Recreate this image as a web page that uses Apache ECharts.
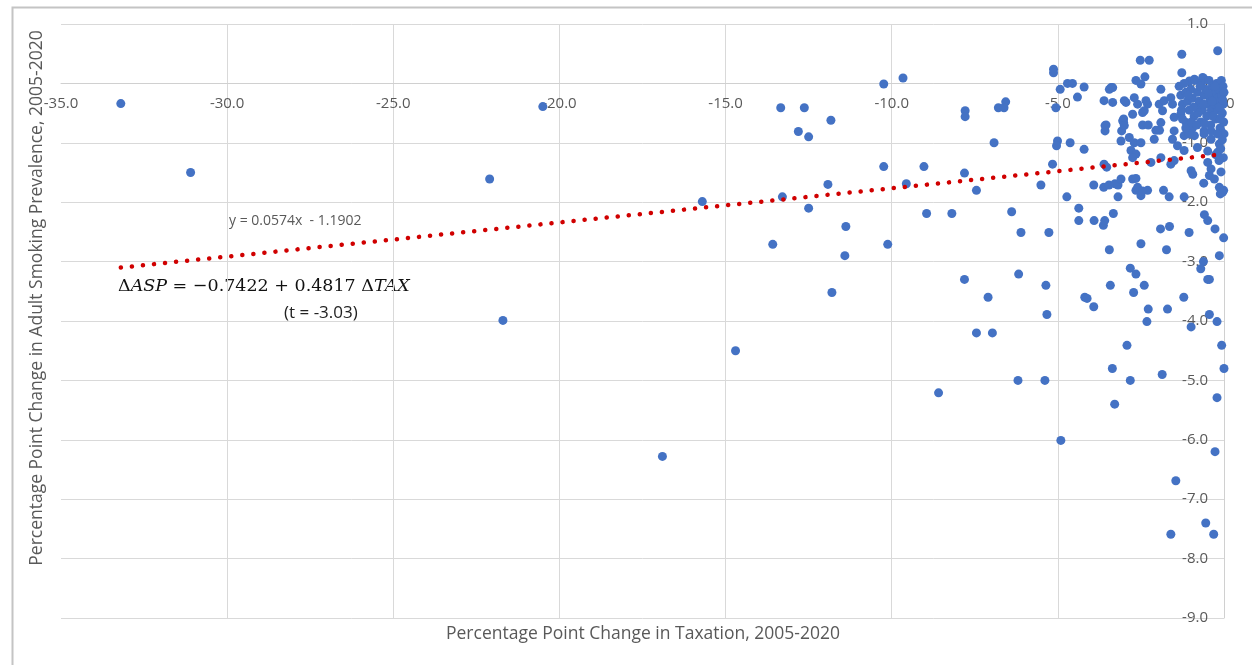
<!DOCTYPE html>
<html>
<head>
<meta charset="utf-8">
<script src="https://cdn.jsdelivr.net/npm/echarts@6/dist/echarts.min.js"></script>
<style>
html,body{margin:0;padding:0;background:#fff;}
#chart{width:1252px;height:665px;}
</style>
</head>
<body>
<div id="chart"></div>
<script>
// Percentage point change in taxation (x) vs. change in adult smoking prevalence (y)
const taxChange = [
 -33.2,-31.1,-22.1,-21.7,-20.5,-16.9,-15.7,-14.7,
 -13.34,-12.63,-12.81,-12.50,-11.83,-10.24,-9.66,-7.79,-7.79,-10.24,-9.03,-11.92,-9.56,-7.81,-7.45,-13.29,-12.50,-8.95,-8.19,-11.38,-13.58,-10.12,-11.41,
 -11.80,-7.81,-7.45,-8.59,
 -6.18,-7.10,-5.36,-5.33,-6.97,-6.20,-5.39,
 -6.39,-6.11,-5.27,-5.51,
 -6.79,-6.57,-6.62,-6.92,-5.06,
 -5.13,-5.13,-4.71,-4.56,-4.93,-4.21,-4.41,
 -5.01,-5.04,-4.63,-4.21,-5.16,
 -4.73,-4.37,-4.37,-3.91,-3.63,-3.59,-3.33,-3.45,
 -4.19,-4.12,-3.92,-3.42,-2.82,-2.65,-2.72,-2.40,-2.28,-2.32,-1.70,-1.21,-0.44,-0.99,-0.21,
 -2.92,-0.07,-3.36,0.0,-2.82,-1.86,-3.29,-0.21,
 -4.91,-0.27,-1.45,-0.55,-1.60,-0.31,
 -2.50,-1.91,-1.64,-1.73,-1.05,-0.59,-0.49,-0.27,-0.01,-0.14,-0.62,-0.70,-0.49,-0.44,
 -3.92,-3.62,-3.46,-3.28,-3.19,-3.19,-2.65,-2.50,-2.30,-1.82,-1.65,-1.20,-0.61,-0.11,-0.01,
 -3.10,-2.75,-2.65,-2.60,-2.45,
 -3.61,-3.53,-2.20,-1.90,-1.60,-1.50,-0.99,-0.94,-0.49,-0.39,-0.44,-0.29,-0.09,-0.14,-0.04,
 -3.58,-3.58,-3.02,-3.02,-3.08,-3.10,-2.85,-2.70,-2.50,-2.10,-1.55,-1.40,-1.20,-2.80,-2.65,-2.75,-0.39,-0.14,-0.19,-1.20,-0.89,-0.80,-0.49,-2.45,-2.28,-1.94,-1.50,-0.60,-0.39,-0.09,
 -3.40,-3.61,-3.35,-2.95,-2.70,-2.60,-2.45,-2.30,-2.75,-1.95,-1.80,-1.60,-1.55,-1.90,-2.05,-3.05,-3.00,-3.55,-1.50,-1.30,-1.14,-1.90,-2.65,-2.38,-2.50,
 -3.45,-3.35,-2.35,-2.40,-3.00,-1.85,
 -2.52,-2.25,-1.27,-0.19,-1.27,-1.04,-0.59,-0.64,-0.89,
 -1.35,-1.30,-1.25,-1.20,-1.15,-1.10,-1.05,-1.00,-0.95,-0.90,-0.88,-0.85,-0.80,-0.75,-0.70,-0.68,-0.65,-0.60,-0.55,-0.52,-0.50,-0.45,-0.42,-0.40,-0.38,-0.35,-0.30,-0.28,-0.25,-0.22,-0.20,-0.18,-0.15,-0.12,-0.10,-0.08,-0.06,-0.05,-0.03,-0.02,-0.01,0.0,0.0,-0.20,-0.60,-0.95,-1.05,
 -0.05,-0.10,-0.02,-0.15,-0.25,
 -1.25,-1.15,-0.98,-0.82,-0.72,-0.58,-0.47,-0.33,-0.27,-0.13,-0.11,-0.04,-0.36,-0.62,-0.78,-0.92,-1.08,-1.28
];
const smokingChange = [
 -0.34,-1.50,-1.61,-3.99,-0.39,-6.28,-1.99,-4.50,
 -0.41,-0.41,-0.81,-0.90,-0.62,-0.01,0.09,-0.46,-0.56,-1.40,-1.40,-1.70,-1.69,-1.51,-1.80,-1.91,-2.10,-2.19,-2.19,-2.41,-2.71,-2.71,-2.90,
 -3.52,-3.30,-4.20,-5.21,
 -3.21,-3.60,-3.40,-3.89,-4.20,-5.00,-5.00,
 -2.16,-2.51,-2.51,-1.71,
 -0.41,-0.31,-0.41,-1.00,-0.41,
 0.24,0.18,0.0,0.0,-0.10,-0.06,-0.23,
 -0.97,-1.05,-1.00,-1.11,-1.36,
 -1.91,-2.10,-2.31,-2.31,-2.39,-2.31,-2.19,-2.80,
 -3.60,-3.62,-3.76,-3.40,-3.11,-3.21,-3.52,-3.40,-3.80,-4.01,-3.80,-3.60,-3.89,-4.10,-4.01,
 -4.41,-4.41,-4.80,-4.80,-5.00,-4.90,-5.40,-5.29,
 -6.01,-6.20,-6.69,-7.40,-7.59,-7.59,
 -2.70,-2.45,-2.41,-2.80,-2.51,-2.21,-2.31,-2.45,-2.60,-2.90,-3.00,-3.12,-3.30,-3.30,
 -1.71,-1.75,-1.71,-1.69,-1.71,-1.91,-1.80,-1.89,-1.80,-1.80,-1.91,-1.91,-1.68,-1.86,-1.80,
 -1.61,-1.61,-1.60,-1.75,-1.81,
 -1.36,-1.41,-1.33,-1.25,-1.36,-1.30,-1.47,-1.53,-1.33,-1.44,-1.55,-1.61,-1.49,-1.75,-1.83,
 -0.71,-0.80,-0.60,-0.66,-0.80,-0.97,-0.91,-1.00,-1.00,-0.94,-0.94,-1.05,-1.13,-1.13,-1.19,-1.25,-0.94,-1.02,-1.16,-0.88,-0.88,-1.08,-1.14,-0.70,-0.70,-0.79,-0.80,-0.80,-0.80,-0.80,
 -0.07,-0.29,-0.32,-0.32,-0.24,-0.35,-0.49,-0.35,-0.52,-0.35,-0.29,-0.24,-0.35,-0.66,-0.79,-0.63,-0.71,-0.70,-0.57,-0.52,-0.66,-0.10,0.05,0.11,-0.01,
 -0.10,-0.07,-0.29,-0.46,-0.29,-0.46,
 0.39,0.39,0.49,0.55,0.18,0.04,0.07,0.10,0.07,
 -0.05,-0.20,-0.35,0.00,-0.15,-0.30,-0.45,-0.10,-0.25,-0.55,0.05,-0.40,-0.15,-0.30,-0.65,0.00,-0.45,-0.20,-0.10,-0.55,-0.35,0.05,-0.25,-0.70,-0.45,-0.05,-0.15,-0.35,-0.60,0.00,-0.25,-0.45,-0.10,-0.75,-0.30,0.05,-0.20,-0.50,-0.05,-0.35,-0.65,-0.15,-0.85,-0.85,-0.85,-0.75,-0.85,
 -0.95,-1.10,-1.25,-1.30,-1.20,
 -0.60,-0.75,-0.65,-0.70,-0.05,-0.68,-0.18,-0.55,-0.05,-0.40,-0.60,-0.28,-0.30,-0.35,-0.50,-0.40,-0.20,-0.45
];
// Linear trendline endpoints as drawn (y = 0.0574x - 1.1902)
const trendX = [-33.2, 0.0];
const trendY = [-3.10, -1.19];

const xTicks = {min: -35, max: 0, interval: 5};
const yTicks = {min: -9, max: 1, interval: 1};

const xTitle = 'Percentage Point Change in Taxation, 2005-2020';
const yTitle = 'Percentage Point Change in Adult Smoking Prevalence, 2005-2020';
const eqText = 'y = 0.0574x  - 1.1902';
const tText = '(t = -3.03)';

const points = taxChange.map((x, i) => [x, smokingChange[i]]);
const trend = trendX.map((x, i) => [x, trendY[i]]);

const gridTop = 24, gridBottom = 47, H = 665;
const plotH = H - gridTop - gridBottom;
// x axis sits on y = 0: shift it up from the bottom edge
const xAxisOffset = -plotH * (0 - yTicks.min) / (yTicks.max - yTicks.min);

const chart = echarts.init(document.getElementById('chart'), null, {renderer: 'canvas'});
const labelColor = '#595959';
const fontFam = '"Open Sans", "Noto Sans", sans-serif';

chart.setOption({
  animation: false,
  backgroundColor: '#fff',
  grid: {left: 61, right: 28, top: gridTop, bottom: gridBottom},
  xAxis: {
    type: 'value', min: xTicks.min, max: xTicks.max, interval: xTicks.interval,
    position: 'bottom', offset: xAxisOffset,
    axisLine: {show: true, onZero: false, lineStyle: {color: '#d0d0d0', width: 1}},
    axisTick: {show: false},
    axisLabel: {color: labelColor, fontSize: 15, fontFamily: fontFam, margin: 13,
      formatter: v => v.toFixed(1)},
    splitLine: {show: true, showMinLine: false, lineStyle: {color: '#d9d9d9', width: 1}}
  },
  yAxis: {
    type: 'value', position: 'right', min: yTicks.min, max: yTicks.max, interval: yTicks.interval,
    axisLine: {show: true, onZero: false, lineStyle: {color: '#d0d0d0', width: 1}},
    axisTick: {show: false},
    axisLabel: {inside: true, color: labelColor, fontSize: 15, fontFamily: fontFam, margin: 16,
      formatter: v => v.toFixed(1)},
    splitLine: {show: true, lineStyle: {color: '#d9d9d9', width: 1}}
  },
  series: [
    {
      type: 'scatter', data: points, symbol: 'circle', symbolSize: 9,
      itemStyle: {color: '#4472C4', opacity: 1}, z: 3
    },
    {
      type: 'line', data: trend, showSymbol: false, symbol: 'none',
      lineStyle: {color: '#D00000', width: 4.5, type: [0.1, 11], cap: 'round'},
      z: 4, silent: true
    }
  ],
  graphic: [
    {type: 'rect', left: 10, top: 5, z: -10, silent: true,
      shape: {width: 1280, height: 700},
      style: {fill: 'none', stroke: '#c4c4c4', lineWidth: 2}},
    {type: 'text', silent: true, x: 643, y: 634,
      style: {text: xTitle, fill: labelColor, font: '17.5px ' + fontFam, textAlign: 'center', textVerticalAlign: 'middle'}},
    {type: 'text', silent: true, x: 37, y: 298, rotation: Math.PI / 2,
      style: {text: yTitle, fill: labelColor, font: '17.5px ' + fontFam, textAlign: 'center', textVerticalAlign: 'middle'}},
    {type: 'text', silent: true, x: 229, y: 221,
      style: {text: eqText, fill: labelColor, font: '14px ' + fontFam, textAlign: 'left', textVerticalAlign: 'middle'}},
    {type: 'text', silent: true, x: 118, y: 286,
      style: {
        text: 'Δ{i|ASP} = −0.7422 + 0.4817 Δ{i|TAX}',
        rich: {i: {fontStyle: 'italic', fontFamily: '"DejaVu Serif", "Liberation Serif", serif', fontSize: 17.5, fill: '#111'}},
        fill: '#111', font: '17.5px "DejaVu Serif", "Liberation Serif", serif', textAlign: 'left', textVerticalAlign: 'middle'}},
    {type: 'text', silent: true, x: 284, y: 313,
      style: {text: tText, fill: '#222', font: '17px ' + fontFam, textAlign: 'left', textVerticalAlign: 'middle'}}
  ]
});
</script>
</body>
</html>
